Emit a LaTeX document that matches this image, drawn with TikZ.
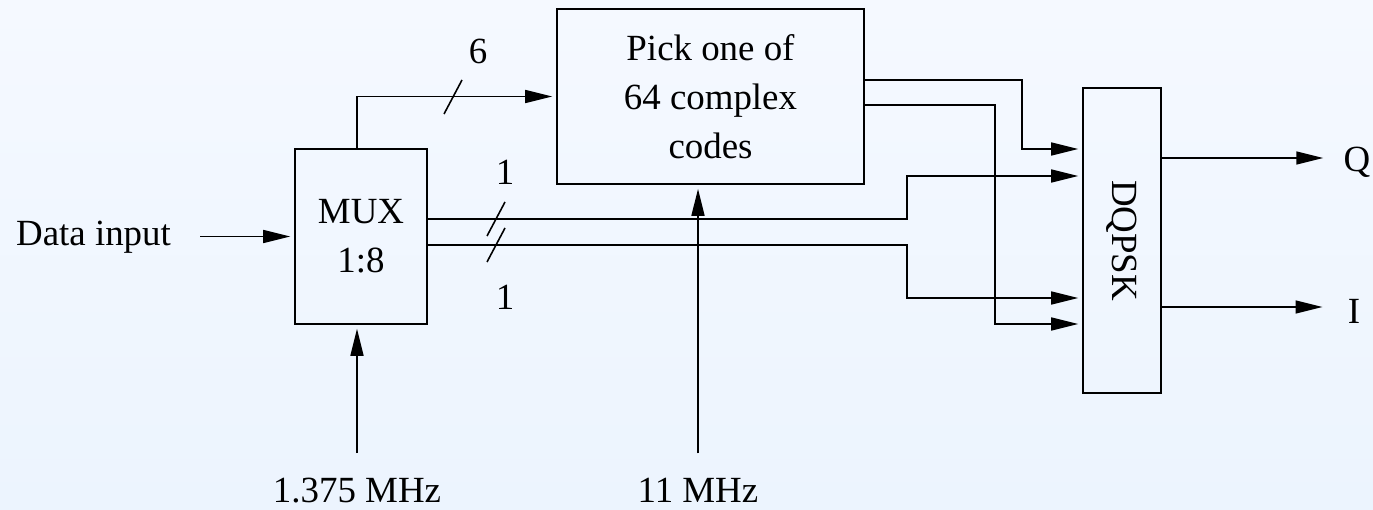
\documentclass[tikz,border=0pt]{standalone}
\usepackage{fontspec}
\setmainfont{Liberation Serif}
\usetikzlibrary{arrows.meta}

\definecolor{bgtop}{RGB}{245,249,255}
\definecolor{bgbot}{RGB}{236,244,254}

\tikzset{
  block/.style={draw, line width=1pt, align=center, inner sep=0pt},
  wire/.style={line width=0.9pt},
  sig/.style={wire, -{Triangle[length=0.54cm,width=0.26cm]}},
  into/.style={sig, shorten >=0.08cm},
  lbl/.style={anchor=base, inner sep=0pt},
}

\begin{document}
\begin{tikzpicture}[x=0.02cm, y=-0.02cm, font=\fontsize{21}{28}\selectfont]
    \useasboundingbox (0,0) rectangle (1373,510);
    \shade[top color=bgtop, bottom color=bgbot] (0,0) rectangle (1373,510);

    % Blocks
    \node[block, minimum width=2.64cm, minimum height=3.5cm] (mux) at (361,236.5) {MUX\\1:8};
    \node[block, minimum width=6.14cm, minimum height=3.5cm] (pick) at (710.5,96.5) {Pick one of\\64 complex\\codes};
    \node[block, minimum width=1.56cm, minimum height=6.1cm] (dqpsk) at (1122,240.5) {\rotatebox{-90}{DQPSK}};

    % Labels
    \node[lbl] (datain) at (93.5,245) {Data input};
    \node[lbl] (six) at (478,64) {6};
    \node[lbl] (onea) at (505,184) {1};
    \node[lbl] (oneb) at (505,309) {1};
    \node[lbl] (qout) at (1357,172) {Q};
    \node[lbl] (iout) at (1354,323) {I};
    \node[lbl] (clka) at (357,502) {1.375 MHz};
    \node[lbl] (clkb) at (698,502) {11 MHz};

    % Inputs and clocks
    \draw[into, shorten <=0.58cm] (datain.east |- mux.west) -- (mux.west);
    \draw[into, shorten <=0.48cm] (clka.north) -- (mux.south -| clka.north);
    \draw[into, shorten <=0.48cm] (clkb.north) -- (pick.south -| clkb.north);

    % MUX to code picker (6 lines)
    \draw[into] (mux.north -| clka) |- (pick.west);
    \draw[wire] (444,114) -- (462,80);

    % Code picker to DQPSK
    \draw[into] (pick.east |- 0,80) -| (1022,149) -- (dqpsk.west |- 0,149);
    \draw[into] (pick.east |- 0,105) -| (995,324) -- (dqpsk.west |- 0,324);

    % MUX to DQPSK (1 line each)
    \draw[into] (mux.east |- 0,219) -| (907,176) -- (dqpsk.west |- 0,176);
    \draw[into] (mux.east |- 0,245) -| (907,298) -- (dqpsk.west |- 0,298);
    \draw[wire] (487,236) -- (505,202);
    \draw[wire] (487,262) -- (505,228);

    % Outputs
    \draw[sig, shorten >=0.4cm] (dqpsk.east |- 0,158) -- (qout.west |- 0,158);
    \draw[sig, shorten >=0.5cm] (dqpsk.east |- 0,307) -- (iout.west |- 0,307);
\end{tikzpicture}
\end{document}
